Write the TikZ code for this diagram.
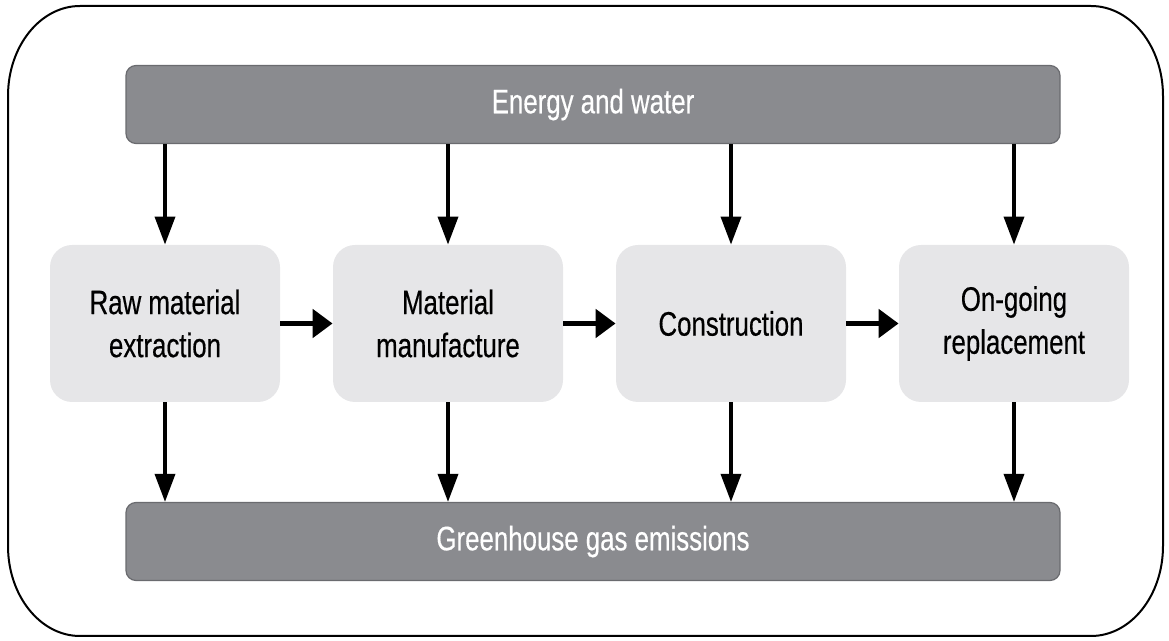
\documentclass[tikz,border=0pt]{standalone}
\usepackage{fontspec}
\setmainfont{Liberation Sans}[FakeStretch=0.76,FakeBold=0.4]
\usetikzlibrary{arrows.meta}

\definecolor{barFill}{HTML}{8A8B8F}
\definecolor{barEdge}{HTML}{6A6B6F}
\definecolor{boxFill}{HTML}{E6E6E8}

\begin{document}
\begin{tikzpicture}[x=0.5pt,y=-0.5pt,
  bar/.style={draw=barEdge, line width=0.6pt, fill=barFill, rounded corners=5pt,
    minimum width=467pt, minimum height=39pt, inner sep=0pt, text=white,
    font=\fontsize{17pt}{21.5pt}\selectfont},
  stage/.style={fill=boxFill, rounded corners=11pt, minimum width=115pt,
    minimum height=78.5pt, inner sep=0pt, align=center,
    font=\fontsize{17pt}{21.5pt}\selectfont},
  vflow/.style={line width=1.8pt, -{Triangle[length=14pt,width=10pt]}},
  hflow/.style={line width=2.5pt, -{Triangle[length=10pt,width=14pt]}}]
\useasboundingbox (0,0) rectangle (1169,641);

% outer frame with elliptical corners
\draw[line width=1pt]
  (80,6) -- (1091,6) arc[start angle=-90,end angle=0,x radius=72,y radius=90]
  -- (1163,546) arc[start angle=0,end angle=90,x radius=72,y radius=90]
  -- (80,636) arc[start angle=90,end angle=180,x radius=72,y radius=90]
  -- (8,96) arc[start angle=180,end angle=270,x radius=72,y radius=90]
  -- cycle;

% input and output bars
\node[bar] (top) at (593,104.5) {Energy and water};
\node[bar] (bot) at (593,541.5) {Greenhouse gas emissions};

% life-cycle stages
\node[stage] (s1) at (165,323.5) {Raw material\\extraction};
\node[stage] (s2) at (448,323.5) {Material\\manufacture};
\node[stage] (s3) at (731,323.5) {Construction};
\node[stage] (s4) at (1014,323.5) {On-going\\replacement};

% flows
\foreach \s in {s1,s2,s3,s4}{
  \draw[vflow] (top.south -| \s.north) -- (\s.north);
  \draw[vflow] (\s.south) -- (\s.south |- bot.north);
}
\draw[hflow] (s1) -- (s2);
\draw[hflow] (s2) -- (s3);
\draw[hflow] (s3) -- (s4);
\end{tikzpicture}
\end{document}
